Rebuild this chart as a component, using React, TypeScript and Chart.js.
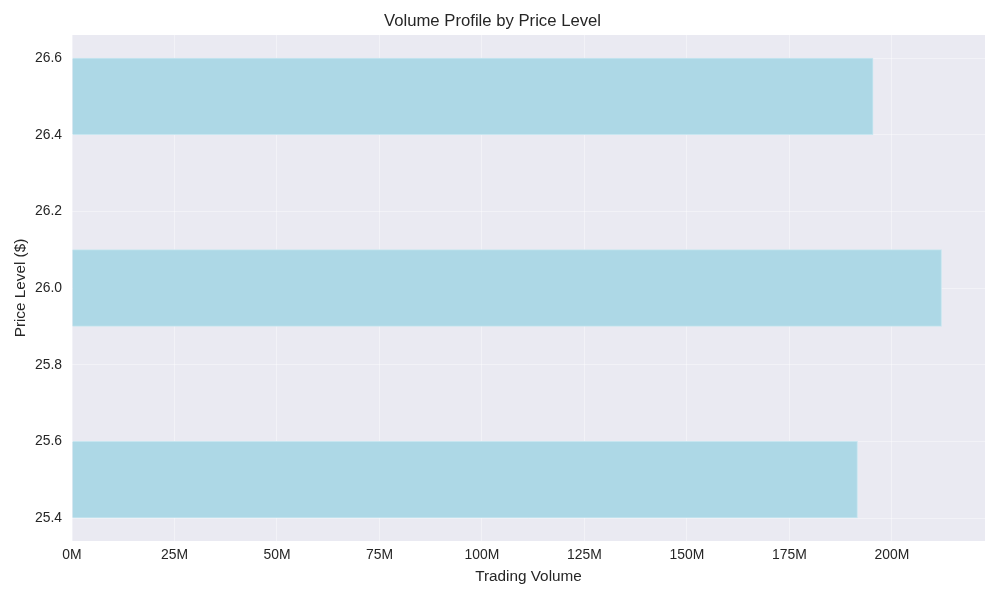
import React, { useEffect, useRef } from "react";
import { Chart, registerables } from "chart.js";

Chart.register(...registerables);

const priceLevels: number[] = [25.5, 26.0, 26.5];
const volumes: number[] = [191.6e6, 212.1e6, 195.4e6];
const yTickValues: number[] = [25.4, 25.6, 25.8, 26.0, 26.2, 26.4, 26.6];
const xTickValues: number[] = [0, 25e6, 50e6, 75e6, 100e6, 125e6, 150e6, 175e6, 200e6];

const FONT = "'Liberation Sans', Arial, 'DejaVu Sans', sans-serif";
const TEXT = "#262626";

const plotBg = {
  id: "plotBg",
  beforeDraw(chart: any) {
    const { ctx, chartArea } = chart;
    if (!chartArea) return;
    ctx.save();
    ctx.fillStyle = "#EAEAF2";
    ctx.fillRect(chartArea.left, chartArea.top, chartArea.right - chartArea.left, chartArea.bottom - chartArea.top);
    ctx.restore();
  },
};

export default function App() {
  const ref = useRef<HTMLCanvasElement | null>(null);
  useEffect(() => {
    document.body.style.margin = "0";
    const canvas = ref.current;
    if (!canvas) return;
    const chart = new Chart(canvas, {
      type: "bar",
      data: {
        datasets: [
          {
            label: "Volume",
            data: priceLevels.map((p, i) => ({ x: volumes[i], y: p })),
            backgroundColor: "#ADD8E6",
            borderColor: "rgba(200,230,240,1)",
            borderWidth: 1,
            barPercentage: 1,
            categoryPercentage: 1,
          },
        ],
      },
      options: {
        indexAxis: "y",
        animation: false,
        responsive: true,
        maintainAspectRatio: false,
        layout: { padding: { left: 0, right: 15, top: 0, bottom: 0 } },
        plugins: {
          legend: { display: false },
          tooltip: { enabled: false },
          title: {
            display: true,
            text: "Volume Profile by Price Level",
            color: TEXT,
            font: { family: FONT, size: 16.7, weight: "normal" },
            padding: { top: 11, bottom: 4 },
          },
        },
        scales: {
          x: {
            type: "linear",
            min: 0,
            max: 222.7e6,
            offset: false,
            afterFit(scale: any) {
              scale.height = 59;
            },
            afterBuildTicks(scale: any) {
              scale.ticks = xTickValues.map((v) => ({ value: v }));
            },
            border: { display: false },
            grid: { color: "rgba(255,255,255,0.4)", lineWidth: 1, drawTicks: false, offset: false },
            ticks: {
              padding: 6,
              color: TEXT,
              font: { family: FONT, size: 13.9 },
              callback: (v: any) => (Number(v) / 1e6).toFixed(0) + "M",
              autoSkip: false,
              maxRotation: 0,
            },
            title: {
              display: true,
              text: "Trading Volume",
              color: TEXT,
              font: { family: FONT, size: 15.3 },
              padding: { top: 0, bottom: 14 },
            },
          },
          y: {
            type: "linear",
            min: 25.34,
            max: 26.66,
            offset: false,
            afterFit(scale: any) {
              scale.width = 72;
            },
            afterBuildTicks(scale: any) {
              scale.ticks = yTickValues.map((v) => ({ value: v }));
            },
            border: { display: false },
            grid: { color: "rgba(255,255,255,0.4)", lineWidth: 1, drawTicks: false, offset: false },
            ticks: {
              padding: 10,
              color: TEXT,
              font: { family: FONT, size: 13.9 },
              callback: (v: any) => Number(v).toFixed(1),
              autoSkip: false,
            },
            title: {
              display: true,
              text: "Price Level ($)",
              color: TEXT,
              font: { family: FONT, size: 15.3 },
              padding: { top: 12, bottom: 0 },
            },
          },
        },
      },
      plugins: [plotBg],
    } as any);
    return () => chart.destroy();
  }, []);
  return (
    <div style={{ width: 1000, height: 600, position: "relative", background: "#fff" }}>
      <canvas ref={ref} />
    </div>
  );
}
